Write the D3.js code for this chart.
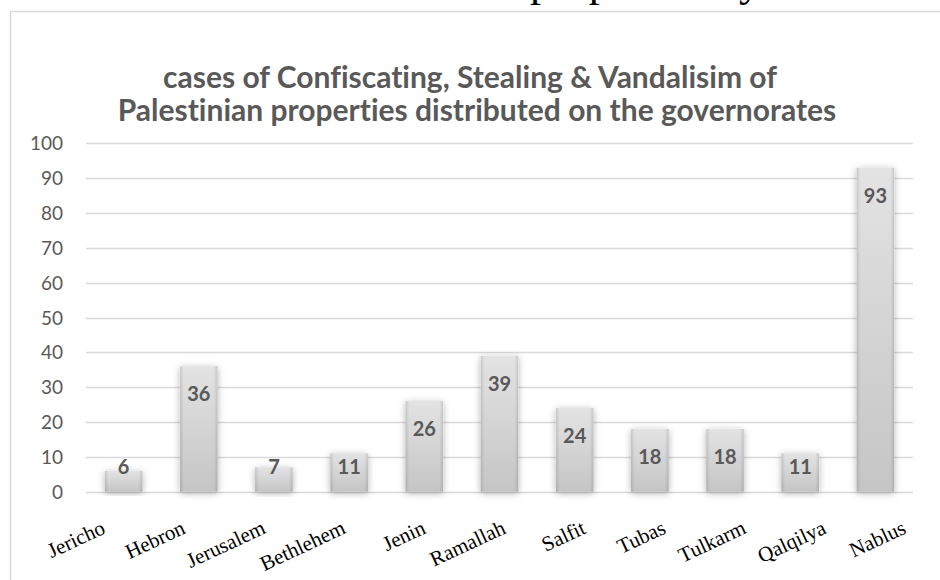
<!DOCTYPE html>
<html>
<head>
<meta charset="utf-8">
<script src="https://cdn.jsdelivr.net/npm/d3@7"></script>
<style>
  html, body { margin: 0; padding: 0; background: #fff; }
  svg { display: block; }
  text { font-variant-ligatures: none; }
</style>
</head>
<body>
<svg id="chart" width="940" height="580"></svg>
<script>
// Governorates and number of recorded cases
const governorates = ["Jericho", "Hebron", "Jerusalem", "Bethlehem", "Jenin", "Ramallah",
                      "Salfit", "Tubas", "Tulkarm", "Qalqilya", "Nablus"];
const cases = [6, 36, 7, 11, 26, 39, 24, 18, 18, 11, 93];
const yTicks = [0, 10, 20, 30, 40, 50, 60, 70, 80, 90, 100];
const titleLines = [
  "cases of Confiscating, Stealing & Vandalisim of",
  "Palestinian properties distributed on the governorates"
];

const data = governorates.map((g, i) => ({ name: g, value: cases[i] }));

const svg = d3.select("#chart");
const W = 940, H = 580;
const margin = { left: 86, right: 27, top: 143.3, bottom: 88.3 };
const sans = "Lato, 'Open Sans', sans-serif";
const serif = "'Liberation Serif', serif";

// Line of body text running off the top edge, above the chart
svg.append("text")
  .attr("x", 530).attr("y", -4)
  .attr("font-family", serif)
  .attr("font-size", 44)
  .attr("fill", "#000")
  .text("properties by");

// Chart area frame
svg.append("rect")
  .attr("x", 10.5).attr("y", 11.5)
  .attr("width", W).attr("height", H)
  .attr("fill", "#fff")
  .attr("stroke", "#d9d9d9")
  .attr("stroke-width", 1.5);

const defs = svg.append("defs");
const grad = defs.append("linearGradient")
  .attr("id", "barFill").attr("x1", 0).attr("y1", 0).attr("x2", 0).attr("y2", 1);
grad.append("stop").attr("offset", "0%").attr("stop-color", "#e3e3e3");
grad.append("stop").attr("offset", "100%").attr("stop-color", "#c5c5c5");

const edge = defs.append("linearGradient")
  .attr("id", "barEdge").attr("x1", 0).attr("y1", 0).attr("x2", 1).attr("y2", 0);
edge.append("stop").attr("offset", "0%").attr("stop-color", "#000").attr("stop-opacity", 0.12);
edge.append("stop").attr("offset", "10%").attr("stop-color", "#000").attr("stop-opacity", 0);
edge.append("stop").attr("offset", "90%").attr("stop-color", "#000").attr("stop-opacity", 0);
edge.append("stop").attr("offset", "100%").attr("stop-color", "#000").attr("stop-opacity", 0.12);

const shadow = defs.append("filter")
  .attr("id", "barShadow")
  .attr("x", "-60%").attr("y", "-20%").attr("width", "220%").attr("height", "140%");
shadow.append("feDropShadow")
  .attr("dx", 0).attr("dy", 1.5).attr("stdDeviation", 3.5)
  .attr("flood-color", "#000").attr("flood-opacity", 0.3);

// Title
const title = svg.append("text")
  .attr("text-anchor", "middle")
  .attr("font-family", sans)
  .attr("font-weight", "bold")
  .attr("font-size", 30)
  .attr("fill", "#595959");
title.append("tspan").attr("x", 470).attr("y", 88).text(titleLines[0]);
title.append("tspan").attr("x", 477).attr("y", 121).text(titleLines[1]);

// Scales
const x = d3.scaleBand()
  .domain(governorates)
  .range([margin.left, W - margin.right])
  .paddingInner(0.5)
  .paddingOuter(0.25);

const y = d3.scaleLinear()
  .domain([0, 100])
  .range([H - margin.bottom, margin.top]);

// Rotated category labels sit on a slightly wider spread than the bars
const xLabel = d3.scalePoint()
  .domain(governorates)
  .range([106, 907]);

// Gridlines
svg.append("g")
  .selectAll("line")
  .data(yTicks)
  .join("line")
  .attr("x1", margin.left).attr("x2", W - margin.right)
  .attr("y1", d => Math.round(y(d)) + 0.5).attr("y2", d => Math.round(y(d)) + 0.5)
  .attr("stroke", "#d9d9d9")
  .attr("stroke-width", 1.5);

// Y axis labels
const yAxis = d3.axisLeft(y).tickValues(yTicks).tickSize(0).tickPadding(0);
const yg = svg.append("g")
  .attr("transform", `translate(${margin.left - 23},0)`)
  .call(yAxis);
yg.select(".domain").remove();
yg.selectAll("text")
  .attr("font-family", sans)
  .attr("font-size", 19)
  .attr("fill", "#595959")
  .attr("dy", "0.35em");

// Bars
const bars = svg.append("g");
bars.selectAll("rect.bar")
  .data(data)
  .join("rect")
  .attr("class", "bar")
  .attr("x", d => x(d.name))
  .attr("y", d => y(d.value))
  .attr("width", x.bandwidth())
  .attr("height", d => y(0) - y(d.value))
  .attr("fill", "url(#barFill)")
  .attr("filter", "url(#barShadow)");
bars.selectAll("rect.edge")
  .data(data)
  .join("rect")
  .attr("class", "edge")
  .attr("x", d => x(d.name))
  .attr("y", d => y(d.value))
  .attr("width", x.bandwidth())
  .attr("height", d => y(0) - y(d.value))
  .attr("fill", "url(#barEdge)");

// Value labels inside the top of each bar
svg.append("g")
  .selectAll("text")
  .data(data)
  .join("text")
  .attr("x", d => x(d.name) + x.bandwidth() / 2)
  .attr("y", d => Math.min(y(d.value) + 28, y(0) - 25))
  .attr("dy", "0.35em")
  .attr("text-anchor", "middle")
  .attr("font-family", sans)
  .attr("font-weight", "bold")
  .attr("font-size", 20)
  .attr("fill", "#595959")
  .text(d => d.value);

// Category labels, rotated
const xAxis = d3.axisBottom(xLabel).tickSize(0).tickPadding(0);
const xg = svg.append("g")
  .attr("transform", `translate(0,${y(0)})`)
  .call(xAxis);
xg.select(".domain").remove();
xg.selectAll("text")
  .attr("font-family", serif)
  .attr("font-size", 21)
  .attr("fill", "#000")
  .attr("text-anchor", "end")
  .attr("dy", 0)
  .attr("y", 0)
  .attr("transform", "translate(0,41) rotate(-25)");
</script>
</body>
</html>
